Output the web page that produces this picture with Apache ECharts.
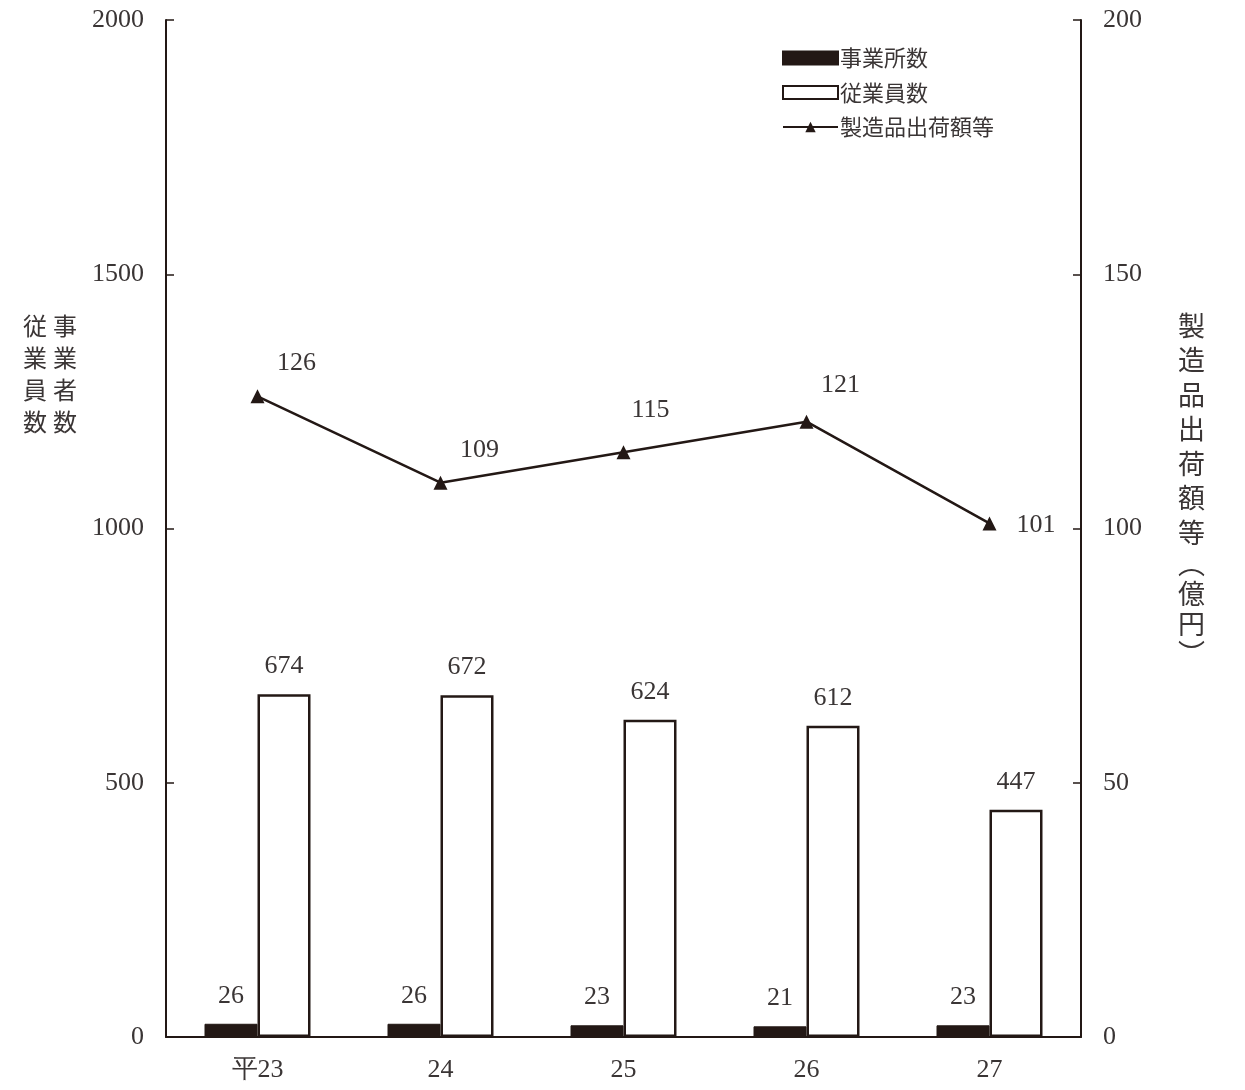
<!DOCTYPE html>
<html><head><meta charset="utf-8">
<script src="https://cdn.jsdelivr.net/npm/echarts@6/dist/echarts.min.js"></script>
<style>html,body{margin:0;padding:0;background:#fff}#c{width:1245px;height:1090px}</style>
</head><body><div id="c"></div>
<script>
const categories = ['平23', '24', '25', '26', '27'];
const establishments = [26, 26, 23, 21, 23];
const employees = [674, 672, 624, 612, 447];
const shipments = [126, 109, 115, 121, 101];
const leftTicks = [0, 500, 1000, 1500, 2000];
const rightTicks = [0, 50, 100, 150, 200];

const INK = '#231815';
const TXT = '#3a3535';
const SERIF = '"Liberation Serif", "DejaVu Serif", serif';
const CJK = '"Noto Sans CJK JP", sans-serif';
const lineLabelOffsets = [[39, -8], [39, -8], [27, -17], [34, -12], [0, 0]];

const chart = echarts.init(document.getElementById('c'));
chart.setOption({
  animation: false,
  backgroundColor: '#fff',
  grid: { left: 166, right: 164, top: 20, bottom: 53, containLabel: false },
  legend: {
    orient: 'vertical', left: 777, top: 42, itemWidth: 55, itemHeight: 13, itemGap: 12.5,
    textStyle: { fontFamily: CJK, fontSize: 22, color: TXT, padding: [0, 0, 0, -3] },
    data: [
      { name: '事業所数', icon: 'rect' },
      { name: '従業員数', icon: 'rect' },
      { name: '製造品出荷額等' }
    ]
  },
  xAxis: {
    type: 'category', data: categories,
    axisLine: { lineStyle: { color: INK, width: 2 } },
    axisTick: { inside: true, length: 8, lineStyle: { color: INK, width: 1.5 } },
    axisLabel: { fontFamily: SERIF, fontSize: 26, color: TXT, margin: 20 }
  },
  yAxis: [
    {
      type: 'value', min: 0, max: 2000, interval: 500, position: 'left',
      splitLine: { show: false },
      axisLine: { show: true, lineStyle: { color: INK, width: 2 } },
      axisTick: { show: true, inside: true, length: 8, lineStyle: { color: INK, width: 1.5 } },
      axisLabel: { fontFamily: SERIF, fontSize: 26, color: TXT, margin: 22,
        formatter: v => leftTicks.includes(v) ? String(v) : '' }
    },
    {
      type: 'value', min: 0, max: 200, interval: 50, position: 'right',
      splitLine: { show: false },
      axisLine: { show: true, lineStyle: { color: INK, width: 2 } },
      axisTick: { show: true, inside: true, length: 8, lineStyle: { color: INK, width: 1.5 } },
      axisLabel: { fontFamily: SERIF, fontSize: 26, color: TXT, margin: 22,
        formatter: v => rightTicks.includes(v) ? String(v) : '' }
    }
  ],
  series: [
    {
      name: '事業所数', type: 'bar', yAxisIndex: 0, data: establishments,
      barWidth: 53, barGap: '0%',
      itemStyle: { color: INK, borderColor: INK, borderWidth: 1 },
      label: { show: true, position: 'top', distance: 15, fontFamily: SERIF, fontSize: 26, color: TXT }
    },
    {
      name: '従業員数', type: 'bar', yAxisIndex: 0, data: employees,
      barWidth: 53, barGap: '0%',
      itemStyle: { color: '#fff', borderColor: INK, borderWidth: 2.5 },
      label: { show: true, position: 'top', distance: 15, fontFamily: SERIF, fontSize: 26, color: TXT }
    },
    {
      name: '製造品出荷額等', type: 'line', yAxisIndex: 1,
      data: shipments.map((v, i) => i === shipments.length - 1
        ? { value: v, label: { position: 'right', distance: 20, offset: [0, 2] } }
        : { value: v, label: { offset: lineLabelOffsets[i] } }),
      symbol: 'triangle', symbolSize: 14,
      lineStyle: { color: INK, width: 2.5 },
      itemStyle: { color: INK },
      label: { show: true, position: 'top', distance: 5, fontFamily: SERIF, fontSize: 26, color: TXT }
    }
  ],
  graphic: [
    { type: 'text', left: 53, top: 310, style: { text: '事\n業\n者\n数', font: '24px ' + CJK, lineHeight: 32, fill: TXT } },
    { type: 'text', left: 23, top: 310, style: { text: '従\n業\n員\n数', font: '24px ' + CJK, lineHeight: 32, fill: TXT } },
    { type: 'text', left: 1178, top: 308, style: { text: '製\n造\n品\n出\n荷\n額\n等', font: '27px ' + CJK, lineHeight: 34.5, fill: TXT } },
    { type: 'text', left: 1178, top: 549, style: { text: '︵\n億\n円\n︶', font: '27px ' + CJK, lineHeight: 30, fill: TXT } }
  ]
});
</script></body></html>
